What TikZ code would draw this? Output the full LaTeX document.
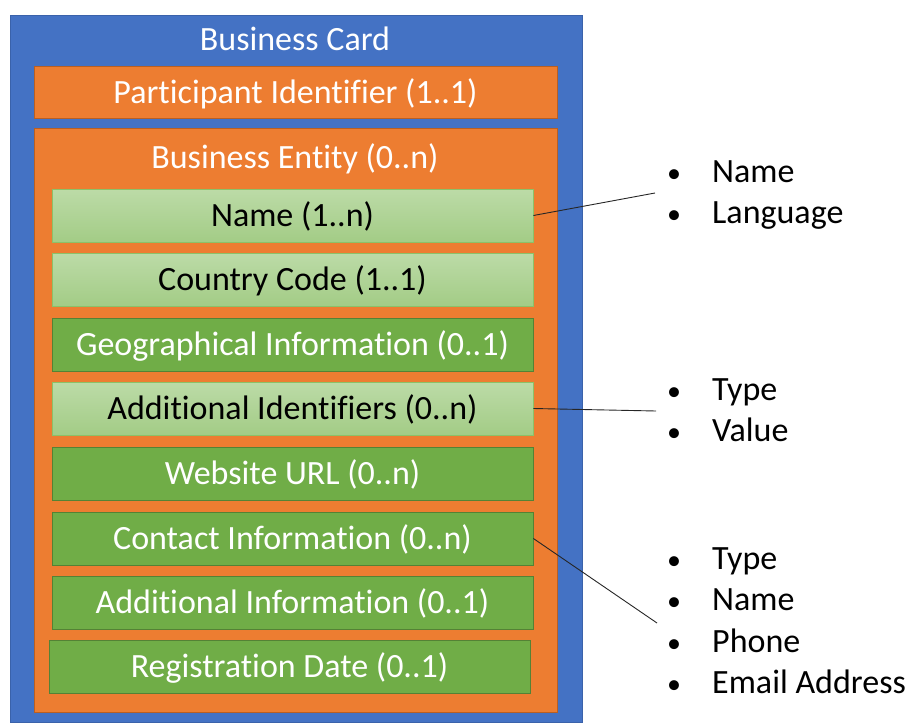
\documentclass[tikz,border=0pt]{standalone}
\usepackage{fontspec}
\setmainfont{Carlito}[Ligatures=CommonOff]
\definecolor{cardblue}{HTML}{4472C4}
\definecolor{cardblueline}{HTML}{3A62AA}
\definecolor{entorange}{HTML}{ED7D31}
\definecolor{entorangeline}{HTML}{B95F22}
\definecolor{darkgreen}{HTML}{70AD47}
\definecolor{darkgreenline}{HTML}{548235}
\definecolor{lgtop}{HTML}{BCDBA7}
\definecolor{lgbot}{HTML}{A3CC86}
\definecolor{lgline}{HTML}{8CC168}
\tikzset{
  boxtext/.style={font=\fontsize{34}{40}\selectfont, text height=22pt, text depth=0pt, inner sep=0pt},
  cardbox/.style={draw=cardblueline, fill=cardblue, line width=0.8pt, inner sep=0pt},
  orangebox/.style={draw=entorangeline, fill=entorange, line width=0.8pt, boxtext, text=white},
  darkfield/.style={draw=darkgreenline, fill=darkgreen, line width=0.8pt, boxtext, text=white, minimum width=481pt, minimum height=53pt},
  lightfield/.style={draw=lgline, top color=lgtop, bottom color=lgbot, line width=0.8pt, boxtext, text=black, minimum width=481pt, minimum height=53pt},
  item/.style={font=\fontsize{34}{40}\selectfont, anchor=base west, inner sep=0pt, text=black},
  bullet/.style={font=\fontsize{28}{34}\selectfont, anchor=base, inner sep=0pt, text=black},
  link/.style={draw=black!85, line width=0.9pt}
}
\begin{document}
\begin{tikzpicture}[x=1pt,y=-1pt]
\useasboundingbox (0,0) rectangle (909,725);
% outer card
\node[cardbox, minimum width=572pt, minimum height=707pt] (card) at (296,368.5) {};
\node[boxtext, text=white] (cardtitle) at (295,40) {Business Card};
% participant identifier
\node[orangebox, minimum width=523pt, minimum height=52pt] (pid) at (295.5,92) {Participant Identifier (1..1)};
% business entity
\node[orangebox, minimum width=523pt, minimum height=584pt] (entity) at (295.5,420) {};
\node[boxtext, text=white] (entitytitle) at (295,157) {Business Entity (0..n)};
% fields
\node[lightfield] (name) at (292.5,215.5) {Name (1..n)};
\node[lightfield] (country) at (292.5,279.5) {Country Code (1..1)};
\node[darkfield] (geo) at (292.5,344.5) {Geographical Information (0..1)};
\node[lightfield] (addid) at (292.5,408.5) {Additional Identifiers (0..n)};
\node[darkfield] (web) at (292.5,473.5) {Website URL (0..n)};
\node[darkfield] (contact) at (292.5,538.5) {Contact Information (0..n)};
\node[darkfield] (addinfo) at (292.5,602.5) {Additional Information (0..1)};
\node[darkfield] (regdate) at (289.5,666.5) {Registration Date (0..1)};
% bullet lists
\node[bullet] (b1) at (674,182) {•};
\node[item] (nameA) at (712,182) {Name};
\node[bullet] (b2) at (674,223) {•};
\node[item] (nameB) at (712,223) {Language};
\node[bullet] (b3) at (674,400) {•};
\node[item] (idA) at (712,400) {Type};
\node[bullet] (b4) at (674,441) {•};
\node[item] (idB) at (712,441) {Value};
\node[bullet] (b5) at (674,569) {•};
\node[item] (cA) at (712,569) {Type};
\node[bullet] (b6) at (674,610) {•};
\node[item] (cB) at (712,610) {Name};
\node[bullet] (b7) at (674,652) {•};
\node[item] (cC) at (712,652) {Phone};
\node[bullet] (b8) at (674,693) {•};
\node[item] (cD) at (712,693) {Email Address};
% connector ends
\coordinate (nameend) at (655,193);
\coordinate (idend) at (656,411);
\coordinate (contactend) at (657,623);
\draw[link] (name.east) -- (nameend);
\draw[link] (addid.east) -- (idend);
\draw[link] (contact.east) -- (contactend);
\end{tikzpicture}
\end{document}
